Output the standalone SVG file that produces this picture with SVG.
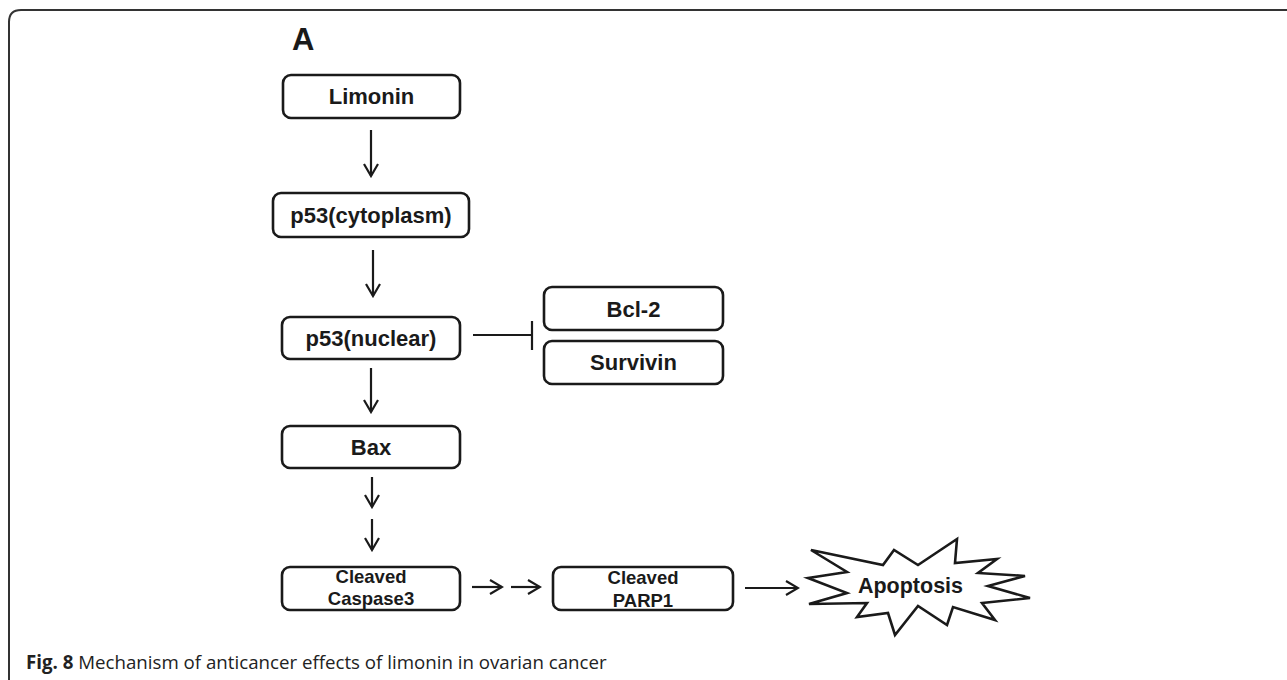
<svg xmlns="http://www.w3.org/2000/svg" width="1287" height="680" viewBox="0 0 1287 680">
<style>
.box{fill:#fff;stroke:#1a1a1a;stroke-width:2.6}
.lbl{font-family:"Liberation Sans",Arial,sans-serif;font-weight:bold;font-size:22px;fill:#1a1a1a;text-anchor:middle}
.sm{font-size:18.5px}
.ln{stroke:#1a1a1a;stroke-width:2.2;fill:none}
.cap{font-family:"Open Sans",sans-serif;font-size:18.7px;fill:#222}
</style>
<defs>
<marker id="arr" viewBox="-14 -9 16 18" refX="0" refY="0" markerWidth="16" markerHeight="18" markerUnits="userSpaceOnUse" orient="auto">
<path d="M-12,-7 L0,0 L-12,7" fill="none" stroke="#1a1a1a" stroke-width="2.2"/>
</marker>
</defs>
<rect width="1287" height="680" fill="#fff"/>
<path d="M9,700 V22 Q9,10 21,10 H1290" fill="none" stroke="#333" stroke-width="2"/>
<text x="292" y="50" style="font-family:'Liberation Sans',Arial,sans-serif;font-weight:bold;font-size:31px;fill:#1a1a1a">A</text>
<g id="connectors">
<line class="ln" x1="371" y1="130" x2="371" y2="176" marker-end="url(#arr)"/>
<line class="ln" x1="373" y1="250" x2="373" y2="296" marker-end="url(#arr)"/>
<line class="ln" x1="371" y1="368" x2="371" y2="412" marker-end="url(#arr)"/>
<line class="ln" x1="372" y1="477" x2="372" y2="507" marker-end="url(#arr)"/>
<line class="ln" x1="372" y1="519" x2="372" y2="550" marker-end="url(#arr)"/>
<line class="ln" x1="472" y1="587" x2="502" y2="587" marker-end="url(#arr)"/>
<line class="ln" x1="511" y1="587" x2="540" y2="587" marker-end="url(#arr)"/>
<line class="ln" x1="745" y1="588" x2="798" y2="588" marker-end="url(#arr)"/>
<line class="ln" x1="473" y1="335" x2="532" y2="335"/>
<line class="ln" x1="532" y1="321" x2="532" y2="350"/>
</g>
<g id="limonin"><rect class="box" x="283" y="75" width="177" height="43" rx="8"/><text class="lbl" x="371.5" y="104">Limonin</text></g>
<g id="p53c"><rect class="box" x="273" y="193" width="196" height="44" rx="8"/><text class="lbl" x="371" y="223">p53(cytoplasm)</text></g>
<g id="p53n"><rect class="box" x="282" y="317" width="178" height="42" rx="8"/><text class="lbl" x="371" y="346">p53(nuclear)</text></g>
<g id="bcl2"><rect class="box" x="544" y="287" width="179" height="43" rx="8"/><text class="lbl" x="633.5" y="317">Bcl-2</text></g>
<g id="survivin"><rect class="box" x="544" y="341" width="179" height="43" rx="8"/><text class="lbl" x="633.5" y="370">Survivin</text></g>
<g id="bax"><rect class="box" x="282" y="426" width="178" height="42" rx="8"/><text class="lbl" x="371" y="455">Bax</text></g>
<g id="caspase3"><rect class="box" x="282" y="567" width="178" height="43" rx="8"/><text class="lbl sm" x="371" y="583">Cleaved</text><text class="lbl sm" x="371" y="605">Caspase3</text></g>
<g id="parp1"><rect class="box" x="553" y="567" width="180" height="43" rx="8"/><text class="lbl sm" x="643" y="584">Cleaved</text><text class="lbl sm" x="643" y="607">PARP1</text></g>
<g id="apoptosis">
<polygon class="box" points="811,550 883,565 894,550 918,565 957,539 955,563 997,559 978,573 1025,576 988,586 1030,598 982,603 995,620 953,607 947,625 918,606 895,635 888,613 857,617 867,603 809,604 847,593 808,578 847,572" stroke-linejoin="miter"/>
<text class="lbl" x="910.5" y="593" style="font-size:21.5px">Apoptosis</text>
</g>
<text class="cap" x="26" y="669"><tspan font-weight="bold">Fig. 8</tspan> Mechanism of anticancer effects of limonin in ovarian cancer</text>
</svg>
